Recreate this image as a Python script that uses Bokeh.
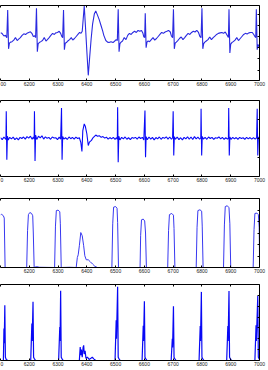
from bokeh.plotting import figure
from bokeh.models import LinearAxis, FixedTicker, Range1d
from bokeh.layouts import column
from bokeh.embed import file_html
from bokeh.resources import INLINE

X_TICKS = [6100, 6200, 6300, 6400, 6500, 6600, 6700, 6800, 6900, 7000]

# Panel 1: raw ECG (mV)
ecg_t = [6100, 6105, 6112, 6117, 6122, 6125, 6128, 6131, 6135, 6140, 6146, 6152, 6158, 6163, 6169, 6175,
         6181, 6187, 6192, 6198, 6204, 6209, 6214, 6219, 6222,
         6225, 6228, 6231, 6235, 6240, 6246, 6252, 6258, 6263, 6269, 6275, 6281, 6287, 6292, 6298, 6304,
         6309, 6313, 6316,
         6319, 6322, 6325, 6329, 6334, 6340, 6346, 6351, 6357, 6363, 6369, 6375, 6380, 6384,
         6391, 6395, 6400, 6405, 6410, 6415, 6420, 6426, 6431, 6437, 6443, 6449, 6455, 6459, 6466, 6472,
         6477, 6484, 6491, 6497, 6502, 6506,
         6509, 6512, 6515, 6519, 6524, 6530, 6536, 6542, 6548, 6554, 6560, 6566, 6572, 6578, 6584, 6590,
         6595, 6598, 6601,
         6603, 6606, 6609, 6613, 6618, 6624, 6630, 6636, 6642, 6648, 6654, 6660, 6666, 6672, 6678, 6684,
         6690, 6694, 6698,
         6701, 6704, 6707, 6711, 6716, 6722, 6728, 6734, 6740, 6746, 6752, 6758, 6764, 6770, 6776, 6782,
         6788, 6793, 6797,
         6800, 6803, 6806, 6810, 6815, 6821, 6827, 6833, 6839, 6845, 6851, 6857, 6863, 6869, 6875, 6881,
         6886, 6890, 6892,
         6894, 6897, 6900, 6904, 6909, 6915, 6921, 6927, 6933, 6939, 6945, 6951, 6957, 6963, 6969, 6975,
         6980, 6984, 6987,
         6989, 6992, 6995, 6998, 7000]
ecg_mv = [0.16, 0.14, 0.02, 0.05, -0.05, 1.18, -0.55, -0.30, -0.25, -0.23, -0.16, -0.05, -0.18, -0.12, -0.05, 0.05,
          0.12, 0.09, 0.14, 0.18, 0.21, 0.14, 0.00, 0.03, -0.05,
          1.26, -0.68, -0.32, -0.27, -0.23, -0.18, -0.05, -0.20, -0.14, -0.05, 0.05, 0.14, 0.09, 0.16, 0.18, 0.23,
          0.14, 0.00, -0.05,
          1.18, -0.59, -0.30, -0.27, -0.20, -0.14, -0.05, -0.16, -0.09, 0.00, 0.09, 0.18, 0.14, 0.23,
          1.36, 0.50, -0.65, -1.73, -0.90, -0.10, 0.55, 1.00, 1.14, 0.95, 0.75, 0.50, 0.25, 0.05, -0.18, -0.25,
          -0.27, -0.23, -0.27, -0.20, -0.14, -0.18,
          1.21, -0.68, -0.32, -0.25, -0.20, -0.05, -0.14, 0.05, 0.14, 0.09, 0.18, 0.23, 0.18, 0.27, 0.23, 0.27,
          0.14, -0.02, -0.05,
          1.03, -0.50, -0.25, -0.20, -0.23, -0.14, -0.05, -0.16, -0.09, 0.00, 0.09, 0.18, 0.14, 0.20, 0.23, 0.27,
          0.20, 0.02, -0.05,
          1.21, -0.55, -0.30, -0.25, -0.18, -0.09, -0.02, -0.14, -0.05, 0.05, 0.14, 0.09, 0.18, 0.23, 0.20, 0.27,
          0.18, 0.00, -0.05,
          1.26, -0.55, -0.32, -0.25, -0.20, -0.14, -0.02, -0.14, -0.05, 0.02, 0.09, 0.14, 0.16, 0.18, 0.14, 0.20,
          0.09, 0.00, -0.05,
          1.21, -0.73, -0.34, -0.27, -0.23, -0.16, -0.05, -0.18, -0.09, 0.00, 0.09, 0.14, 0.11, 0.16, 0.18, 0.18,
          0.09, 0.00, -0.05,
          1.21, -0.59, -0.35, -0.45, -0.40]

# Panel 2: filtered ECG
filt_t = [6100, 6106, 6112, 6116, 6119, 6120, 6122, 6124, 6127, 6132, 6138, 6144, 6150, 6156, 6162, 6168,
          6174, 6180, 6186, 6192, 6198, 6204, 6210, 6214, 6217, 6218, 6220, 6222, 6226, 6232, 6238, 6244,
          6250, 6256, 6262, 6268, 6274, 6280, 6286, 6292, 6298, 6304, 6309, 6312, 6314, 6316, 6320, 6326,
          6332, 6338, 6344, 6350, 6356, 6362, 6368, 6374, 6379, 6383, 6386, 6391, 6395, 6400, 6405, 6409,
          6416, 6422, 6431, 6437, 6443, 6450, 6456, 6462, 6468, 6474, 6480, 6486, 6492, 6498, 6503, 6506,
          6507, 6509, 6511, 6515, 6521, 6527, 6533, 6539, 6545, 6551, 6557, 6563, 6569, 6575, 6581, 6587,
          6593, 6598, 6602, 6604, 6606, 6610, 6616, 6622, 6628, 6634, 6640, 6646, 6652, 6658, 6664, 6670,
          6676, 6682, 6688, 6694, 6698, 6700, 6702, 6704, 6708, 6714, 6720, 6726, 6732, 6738, 6744, 6750,
          6756, 6762, 6768, 6774, 6780, 6786, 6792, 6796, 6797, 6799, 6801, 6805, 6811, 6817, 6823, 6829,
          6835, 6841, 6847, 6853, 6859, 6865, 6871, 6877, 6883, 6889, 6892, 6893, 6895, 6897, 6901, 6907,
          6913, 6919, 6925, 6931, 6937, 6943, 6949, 6955, 6961, 6967, 6973, 6979, 6985, 6990, 6992, 6994,
          6996, 7000]
filt_v = [0.04, -0.06, 0.08, 0.00, -0.04, 1.44, -1.12, 0.12, -0.08, 0.06, -0.02, 0.07, -0.06, 0.03, -0.07, 0.06,
          0.00, 0.08, -0.03, 0.10, 0.02, 0.12, -0.04, 0.08, -0.03, 1.44, -1.19, 0.18, -0.05, 0.12, 0.03, 0.14,
          -0.03, 0.09, 0.01, 0.06, -0.04, 0.08, 0.03, 0.04, -0.06, 0.07, -0.03, 1.61, -1.12, 0.10, -0.03, 0.04,
          -0.05, 0.08, -0.01, 0.06, -0.03, 0.07, 0.00, 0.04, -0.20, -0.68, 0.42, 0.77, 0.63, 0.25, -0.37, -0.19,
          -0.10, 0.05, 0.18, 0.12, 0.15, 0.06, 0.10, 0.02, 0.07, -0.03, 0.05, -0.02, 0.06, -0.04, 0.04, -0.04,
          1.65, -1.25, 0.12, -0.07, 0.06, -0.02, 0.08, -0.04, 0.04, -0.06, 0.05, 0.01, 0.06, -0.03, 0.08, 0.00,
          0.06, -0.08, 1.47, -0.98, 0.10, -0.06, 0.08, -0.03, 0.06, -0.07, 0.05, -0.02, 0.08, -0.04, 0.06, 0.01,
          0.09, -0.03, 0.08, -0.04, 0.04, 1.44, -0.89, 0.10, -0.04, 0.08, -0.06, 0.04, -0.07, 0.06, -0.02, 0.09,
          -0.04, 0.08, -0.05, 0.10, -0.02, 0.07, -0.04, 0.04, 1.56, -0.89, 0.10, -0.03, 0.06, -0.04, 0.08, 0.00,
          0.06, -0.05, 0.04, 0.01, 0.08, -0.02, 0.06, -0.04, 0.04, -0.03, 0.02, 1.61, -0.89, 0.08, -0.04, 0.06,
          -0.02, 0.05, -0.04, 0.06, 0.00, 0.04, -0.04, 0.06, -0.02, 0.05, -0.03, 0.05, -0.03, 0.04, 1.56, -0.89,
          0.08, 0.00]

# Panel 3: QRS window signal
win_t = [6100, 6104, 6110, 6113, 6116, 6150, 6191, 6194, 6197, 6202, 6208, 6212, 6214, 6217, 6225, 6235,
         6288, 6291, 6294, 6300, 6306, 6308, 6311, 6340,
         6363, 6367, 6370, 6374, 6379, 6384, 6389, 6393, 6398, 6405, 6412, 6420, 6428, 6437,
         6487, 6490, 6493, 6500, 6505, 6507, 6510,
         6585, 6587, 6590, 6596, 6601, 6604, 6607,
         6681, 6684, 6687, 6695, 6701, 6703, 6706,
         6780, 6783, 6786, 6793, 6799, 6801, 6804,
         6875, 6878, 6881, 6888, 6894, 6897, 6900,
         6978, 6981, 6984, 6991, 6996, 6999, 7000]
win_v = [4.58, 4.62, 4.50, 4.30, 0.00, 0.00, 0.00, 3.20, 4.60, 4.78, 4.70, 4.50, 3.00, 0.00, 0.08, 0.02,
         0.00, 3.60, 4.95, 4.99, 4.85, 3.80, 0.00, 0.02,
         0.00, 0.87, 1.10, 1.89, 3.04, 2.76, 1.89, 1.02, 0.67, 0.67, 0.50, 0.30, 0.10, 0.00,
         0.00, 3.80, 5.25, 5.30, 5.15, 3.90, 0.00,
         0.00, 2.80, 4.15, 4.21, 4.05, 3.00, 0.00,
         0.00, 3.20, 4.60, 4.70, 4.55, 3.40, 0.00,
         0.00, 3.50, 4.95, 5.02, 4.90, 3.60, 0.00,
         0.00, 3.70, 5.30, 5.37, 5.20, 3.80, 0.00,
         0.00, 3.30, 4.70, 4.73, 4.60, 3.50, 1.00]

# Panel 4: detection (squared) signal
det_t = [6100, 6110, 6112, 6113, 6115, 6117, 6120, 6125, 6205, 6209, 6210, 6213, 6215, 6218, 6222,
         6302, 6306, 6307, 6309, 6311, 6314, 6318,
         6374, 6377, 6379, 6381, 6384, 6387, 6389, 6391, 6394, 6397, 6402, 6408, 6414, 6419, 6424, 6431,
         6498, 6502, 6503, 6507, 6509, 6512, 6516,
         6592, 6596, 6597, 6600, 6602, 6605, 6609,
         6693, 6697, 6698, 6701, 6703, 6706, 6710,
         6790, 6794, 6795, 6798, 6800, 6803, 6807,
         6886, 6890, 6891, 6894, 6896, 6899, 6903,
         6984, 6988, 6989, 6994, 6996, 6999, 7000]
det_v = [0.00, 0.00, 2.94, 1.60, 5.09, 0.30, 0.10, 0.00, 0.00, 3.40, 1.80, 5.40, 0.30, 0.15, 0.00,
         0.00, 3.08, 1.80, 6.42, 0.30, 0.15, 0.00,
         0.00, 1.23, 0.50, 1.00, 0.30, 1.20, 1.39, 0.60, 0.90, 0.20, 0.30, 0.10, 0.20, 0.30, 0.15, 0.00,
         0.00, 3.70, 2.00, 6.79, 0.30, 0.15, 0.00,
         0.00, 3.20, 1.80, 5.46, 0.30, 0.15, 0.00,
         0.00, 2.00, 1.20, 5.00, 0.30, 0.15, 0.00,
         0.00, 3.18, 1.80, 6.32, 0.30, 0.15, 0.00,
         0.00, 3.18, 1.80, 6.39, 0.30, 0.15, 0.00,
         0.00, 3.24, 1.80, 5.95, 0.30, 0.15, 0.10]

FONT = "Liberation Sans"
BLANK_X = {t: "" for t in X_TICKS}


def make_panel(h, top, bottom, yr, yticks, xs, ys, color, lw, first_label):
    p = figure(width=268, height=h, x_range=Range1d(6100, 7000), y_range=Range1d(yr[0], yr[1]),
               output_backend="svg", toolbar_location=None, y_axis_location="right",
               min_border_left=0, min_border_right=9, min_border_top=top, min_border_bottom=bottom)
    p.outline_line_color = None
    p.xgrid.visible = False
    p.ygrid.visible = False
    p.line(xs, ys, line_color=color, line_width=lw)

    xa = p.xaxis[0]
    xa.ticker = FixedTicker(ticks=X_TICKS)
    xa.major_tick_in = 2
    xa.major_tick_out = 0
    xa.minor_tick_line_color = None
    xa.axis_line_color = "black"
    xa.major_label_text_font = FONT
    xa.major_label_text_font_size = "5px"
    xa.major_label_text_color = "#222222"
    xa.major_label_standoff = 1
    xa.major_label_overrides = {6100: first_label}

    ta = LinearAxis(ticker=FixedTicker(ticks=X_TICKS), major_tick_in=2, major_tick_out=0,
                    minor_tick_line_color=None, major_label_text_font_size="1px",
                    major_label_overrides=BLANK_X,
                    major_label_standoff=0, axis_line_color="black")
    p.add_layout(ta, "above")

    ya = p.yaxis[0]
    ya.ticker = FixedTicker(ticks=yticks)
    ya.major_tick_in = 2
    ya.major_tick_out = 0
    ya.minor_tick_line_color = None
    ya.major_label_text_font_size = "1px"
    ya.major_label_overrides = {t: "" for t in yticks}
    ya.major_label_standoff = 0
    ya.axis_line_color = "black"
    return p


p1 = make_panel(92, 5, 12, (-1.96, 1.38), [-1.5, -1.0, -0.5, 0.0, 0.5, 1.0],
                ecg_t, ecg_mv, "#2a2ae0", 1.1, "00")
p2 = make_panel(96, 8, 12, (-2.0, 2.0), [-1, 0, 1],
                filt_t, filt_v, "#0a0af8", 1.1, "0")
p3 = make_panel(91, 10, 12, (0, 6), [1, 2, 3, 4, 5],
                win_t, win_v, "#3838f0", 1.0, "")
p4 = make_panel(91, 5, 10, (0, 7), [1, 2, 3, 4, 5, 6],
                det_t, det_v, "#0808f5", 1.2, "0")

layout = column(p1, p2, p3, p4, spacing=0)
open("out.html", "w").write(file_html(layout, INLINE))
